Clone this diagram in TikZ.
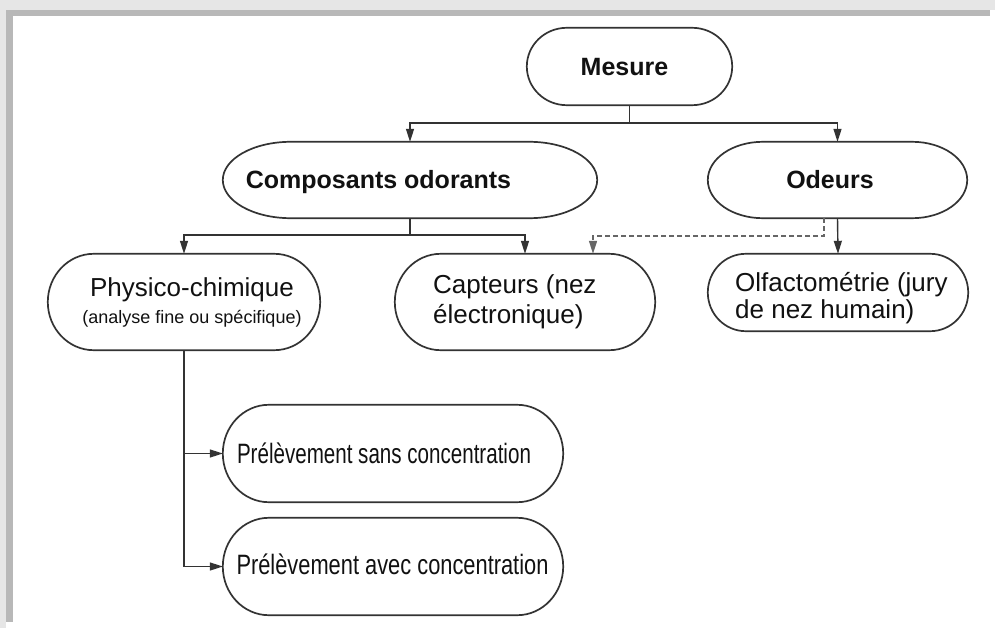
\documentclass[tikz,border=0pt]{standalone}
\usepackage{fontspec}
\setmainfont{Liberation Sans}
\usepackage{graphicx}
\usetikzlibrary{calc,arrows.meta}
\definecolor{edge}{HTML}{333333}
\definecolor{ink}{HTML}{111111}
\definecolor{frameA}{HTML}{E6E6E6}
\definecolor{frameB}{HTML}{B8B8B8}
\tikzset{
  boxarea/.style={rectangle, inner sep=0pt, draw=none},
  boxline/.style={draw=edge, line width=1.7pt},
  conn/.style={draw=edge, line width=1.4pt},
  arr/.style={conn, -{Triangle[length=13pt,width=8pt]}},
  darr/.style={arr, dash pattern=on 5pt off 3pt, line width=1.5pt, draw=edge!75},
  bigtxt/.style={text=ink, inner sep=0pt, font=\fontsize{25}{30}\selectfont\bfseries},
  regtxt/.style={text=ink, inner sep=0pt, font=\fontsize{26}{30}\selectfont},
}
\newcommand\stadium[2]{%
  \draw[boxline] let \p1=(#1.north west), \p2=(#1.south east), \n1={(\y1-\y2)/2} in
    (\x1+#2,\y1) -- (\x2-#2,\y1)
    arc[start angle=90, end angle=-90, x radius=#2, y radius={\n1*1pt}]
    -- (\x1+#2,\y2)
    arc[start angle=270, end angle=90, x radius=#2, y radius={\n1*1pt}]
    -- cycle;}
\begin{document}
\begin{tikzpicture}[x=1pt,y=1pt]
\useasboundingbox (0,0) rectangle (995,-628);
\fill[white] (0,0) rectangle (995,-628);
% frame shadow
\fill[frameA] (0,0) rectangle (995,-10);
\fill[frameB] (6,-10) rectangle (990,-16);
\fill[frameA] (0,0) rectangle (6,-628);
\fill[frameB] (6,-10) rectangle (13,-622);

% box areas
\node[boxarea, minimum width=205pt, minimum height=77pt] (mes) at (629.5,-66.5) {};
\node[boxarea, minimum width=374pt, minimum height=76pt] (comp) at (410,-180) {};
\node[boxarea, minimum width=259pt, minimum height=76pt] (odeur) at (837.5,-180) {};
\node[boxarea, minimum width=272pt, minimum height=96pt] (phys) at (184,-302) {};
\node[boxarea, minimum width=260pt, minimum height=96pt] (capt) at (525,-302) {};
\node[boxarea, minimum width=260pt, minimum height=77pt] (olf) at (838,-292.5) {};
\node[boxarea, minimum width=340pt, minimum height=97pt] (sans) at (393,-453.5) {};
\node[boxarea, minimum width=340pt, minimum height=97pt] (avec) at (393,-566.5) {};

\stadium{mes}{40pt}
\stadium{comp}{68pt}
\stadium{odeur}{55pt}
\stadium{phys}{46pt}
\stadium{capt}{46pt}
\stadium{olf}{38pt}
\stadium{sans}{46pt}
\stadium{avec}{46pt}

% texts
\node[bigtxt] (tmes) at (624.5,-67) {Mesure};
\node[bigtxt] (tcomp) at (378.5,-182.5) {Composants odorants};
\node[bigtxt] (todeur) at (830,-180) {Odeurs};
\node[regtxt, align=center] (tphys) at (192,-302)
  {Physico-chimique\\[-3pt]{\fontsize{18}{20}\selectfont (analyse fine ou spécifique)}};
\node[regtxt, align=left, anchor=west] (tcapt) at (433,-302) {Capteurs (nez\\électronique)};
\node[regtxt, align=left, anchor=west, font=\fontsize{26}{27}\selectfont] (tolf) at (735,-298.5) {Olfactométrie (jury\\de nez humain)};
\node[regtxt, font=\fontsize{28}{30}\selectfont] (tsans) at (384,-453) {\scalebox{0.735}[1]{Prélèvement sans concentration}};
\node[regtxt, font=\fontsize{28}{30}\selectfont] (tavec) at (392.5,-564) {\scalebox{0.78}[1]{Prélèvement avec concentration}};

% connectors
\coordinate (j1) at ($(mes.south)+(0,-18)$);
\draw[conn] (mes.south) -- (j1);
\draw[arr] (j1) -| (comp.north);
\draw[arr] (j1) -| (odeur.north);
\coordinate (j2) at ($(comp.south)+(0,-17)$);
\draw[conn] (comp.south) -- (j2);
\draw[arr] (j2) -| (phys.north);
\draw[arr] (j2) -| (capt.north);
\draw[arr] (odeur.south) -- (olf.north);
\coordinate (d1) at ($(odeur.south)+(-13.5,0)$);
\coordinate (d2) at ($(capt.north)+(68,0)$);
\draw[darr] (d1) -- ++(0,-18) -| (d2);
\coordinate (j3) at (phys.south |- sans.west);
\coordinate (j4) at (phys.south |- avec.west);
\draw[conn] (phys.south) -- (j4);
\draw[arr] (j4) -- (avec.west);
\draw[arr] (j3) -- (sans.west);
\end{tikzpicture}
\end{document}
